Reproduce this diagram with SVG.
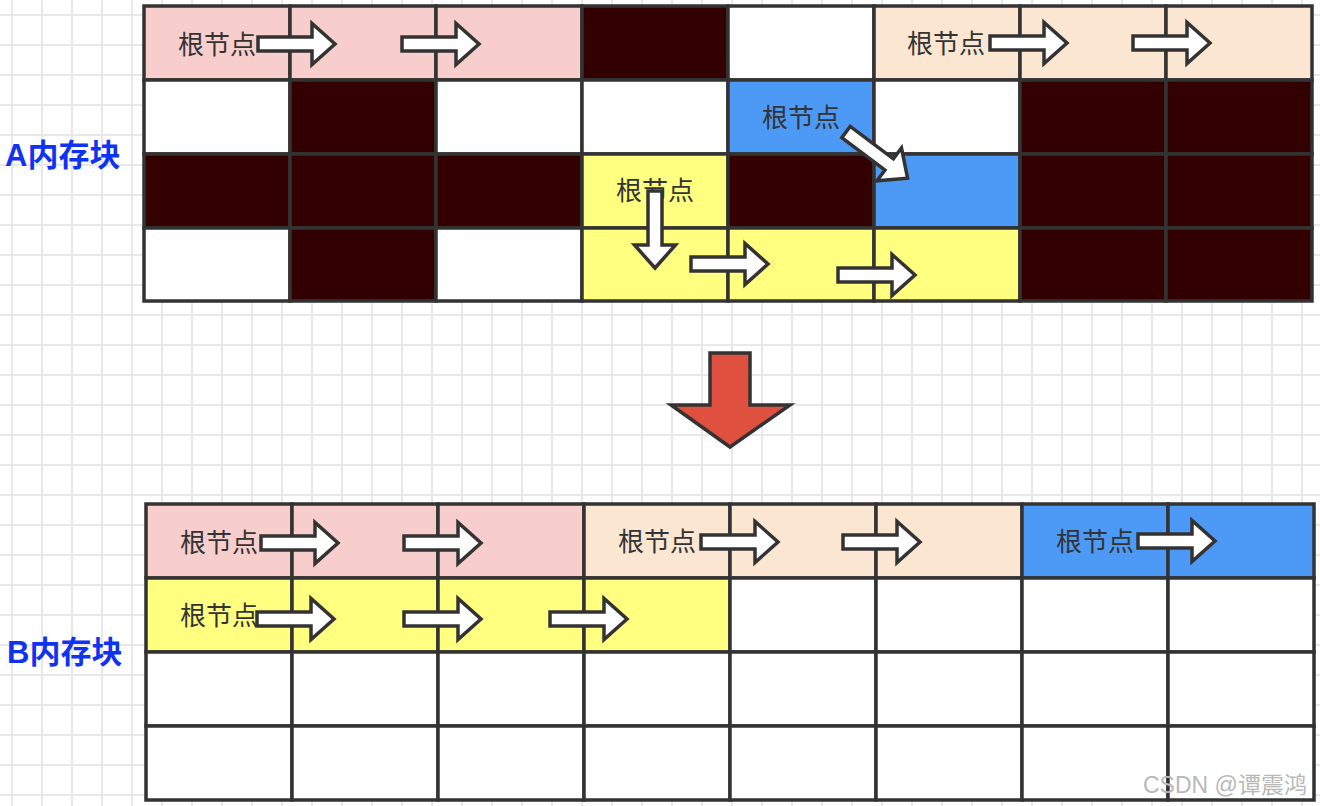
<svg xmlns="http://www.w3.org/2000/svg" width="1320" height="806" viewBox="0 0 1320 806">
  <defs>
    <pattern id="paper" patternUnits="userSpaceOnUse" x="-3" y="0" width="30" height="30">
      <path d="M0,15 H30 M15,0 V30" stroke="#e8e8e8" stroke-width="2" fill="none"/>
    </pattern>
    <!-- block arrow, tail centre at origin, pointing along +x -->
    <path id="blockArrow" d="M0,-7 H54 V-20.5 L77,0 L54,20.5 V7 H0 Z"/>
    <style>
      .cell { stroke: #333; stroke-width: 3.5; }
      .pink { fill: #f8cecc; }
      .peach { fill: #fbe6d1; }
      .dark { fill: #330000; }
      .blue { fill: #4d9af6; }
      .yellow { fill: #ffff80; }
      .white { fill: #ffffff; }
      .lbl { font-family: "Noto Sans CJK SC", "Noto Sans", sans-serif; font-size: 26px; fill: #333; text-anchor: middle; }
      .title { font-family: "Liberation Sans", "Noto Sans CJK SC", sans-serif; font-size: 31px; font-weight: bold; fill: #1032f2; }
      .arrow { fill: #ffffff; stroke: #333; stroke-width: 3.5; stroke-linejoin: miter; }
      .mark { font-family: "Liberation Sans", "Noto Sans CJK SC", sans-serif; font-size: 23px; fill: #b8b8b8; }
    </style>
  </defs>

  <rect width="1320" height="806" fill="#ffffff"/>
  <rect width="1320" height="806" fill="url(#paper)"/>

  <!-- memory block A: 8 x 4 cells -->
  <g id="blockA">
    <rect class="cell pink" x="144" y="6" width="146" height="74"/>
    <rect class="cell pink" x="290" y="6" width="146" height="74"/>
    <rect class="cell pink" x="436" y="6" width="146" height="74"/>
    <rect class="cell dark" x="582" y="6" width="146" height="74"/>
    <rect class="cell white" x="728" y="6" width="146" height="74"/>
    <rect class="cell peach" x="874" y="6" width="146" height="74"/>
    <rect class="cell peach" x="1020" y="6" width="146" height="74"/>
    <rect class="cell peach" x="1166" y="6" width="146" height="74"/>

    <rect class="cell white" x="144" y="80" width="146" height="74"/>
    <rect class="cell dark" x="290" y="80" width="146" height="74"/>
    <rect class="cell white" x="436" y="80" width="146" height="74"/>
    <rect class="cell white" x="582" y="80" width="146" height="74"/>
    <rect class="cell blue" x="728" y="80" width="146" height="74"/>
    <rect class="cell white" x="874" y="80" width="146" height="74"/>
    <rect class="cell dark" x="1020" y="80" width="146" height="74"/>
    <rect class="cell dark" x="1166" y="80" width="146" height="74"/>

    <rect class="cell dark" x="144" y="154" width="146" height="74"/>
    <rect class="cell dark" x="290" y="154" width="146" height="74"/>
    <rect class="cell dark" x="436" y="154" width="146" height="74"/>
    <rect class="cell yellow" x="582" y="154" width="146" height="74"/>
    <rect class="cell dark" x="728" y="154" width="146" height="74"/>
    <rect class="cell blue" x="874" y="154" width="146" height="74"/>
    <rect class="cell dark" x="1020" y="154" width="146" height="74"/>
    <rect class="cell dark" x="1166" y="154" width="146" height="74"/>

    <rect class="cell white" x="144" y="228" width="146" height="73"/>
    <rect class="cell dark" x="290" y="228" width="146" height="73"/>
    <rect class="cell white" x="436" y="228" width="146" height="73"/>
    <rect class="cell yellow" x="582" y="228" width="146" height="73"/>
    <rect class="cell yellow" x="728" y="228" width="146" height="73"/>
    <rect class="cell yellow" x="874" y="228" width="146" height="73"/>
    <rect class="cell dark" x="1020" y="228" width="146" height="73"/>
    <rect class="cell dark" x="1166" y="228" width="146" height="73"/>

    <text class="lbl" x="217" y="54">根节点</text>
    <text class="lbl" x="946" y="53">根节点</text>
    <text class="lbl" x="801" y="127">根节点</text>
    <text class="lbl" x="655" y="200">根节点</text>
  </g>

  <!-- memory block B: 8 x 4 cells -->
  <g id="blockB">
    <rect class="cell pink" x="146" y="504" width="146" height="74"/>
    <rect class="cell pink" x="292" y="504" width="146" height="74"/>
    <rect class="cell pink" x="438" y="504" width="146" height="74"/>
    <rect class="cell peach" x="584" y="504" width="146" height="74"/>
    <rect class="cell peach" x="730" y="504" width="146" height="74"/>
    <rect class="cell peach" x="876" y="504" width="146" height="74"/>
    <rect class="cell blue" x="1022" y="504" width="146" height="74"/>
    <rect class="cell blue" x="1168" y="504" width="146" height="74"/>

    <rect class="cell yellow" x="146" y="578" width="146" height="74"/>
    <rect class="cell yellow" x="292" y="578" width="146" height="74"/>
    <rect class="cell yellow" x="438" y="578" width="146" height="74"/>
    <rect class="cell yellow" x="584" y="578" width="146" height="74"/>
    <rect class="cell white" x="730" y="578" width="146" height="74"/>
    <rect class="cell white" x="876" y="578" width="146" height="74"/>
    <rect class="cell white" x="1022" y="578" width="146" height="74"/>
    <rect class="cell white" x="1168" y="578" width="146" height="74"/>

    <rect class="cell white" x="146" y="652" width="146" height="74"/>
    <rect class="cell white" x="292" y="652" width="146" height="74"/>
    <rect class="cell white" x="438" y="652" width="146" height="74"/>
    <rect class="cell white" x="584" y="652" width="146" height="74"/>
    <rect class="cell white" x="730" y="652" width="146" height="74"/>
    <rect class="cell white" x="876" y="652" width="146" height="74"/>
    <rect class="cell white" x="1022" y="652" width="146" height="74"/>
    <rect class="cell white" x="1168" y="652" width="146" height="74"/>

    <rect class="cell white" x="146" y="726" width="146" height="74"/>
    <rect class="cell white" x="292" y="726" width="146" height="74"/>
    <rect class="cell white" x="438" y="726" width="146" height="74"/>
    <rect class="cell white" x="584" y="726" width="146" height="74"/>
    <rect class="cell white" x="730" y="726" width="146" height="74"/>
    <rect class="cell white" x="876" y="726" width="146" height="74"/>
    <rect class="cell white" x="1022" y="726" width="146" height="74"/>
    <rect class="cell white" x="1168" y="726" width="146" height="74"/>

    <text class="lbl" x="219" y="552">根节点</text>
    <text class="lbl" x="657" y="551">根节点</text>
    <text class="lbl" x="1095" y="551">根节点</text>
    <text class="lbl" x="219" y="625">根节点</text>
  </g>

  <g id="labelA"><text class="title" x="5" y="166">A内存块</text></g>
  <g id="labelB"><text class="title" x="7" y="663">B内存块</text></g>

  <!-- links between cells -->
  <g id="connectors">
    <use href="#blockArrow" class="arrow" transform="translate(258,44)"/>
    <use href="#blockArrow" class="arrow" transform="translate(402,44)"/>
    <use href="#blockArrow" class="arrow" transform="translate(990,43)"/>
    <use href="#blockArrow" class="arrow" transform="translate(1133,43)"/>
    <use href="#blockArrow" class="arrow" transform="translate(846,132) rotate(36.9)"/>
    <use href="#blockArrow" class="arrow" transform="translate(655,191) rotate(90)"/>
    <use href="#blockArrow" class="arrow" transform="translate(691,264)"/>
    <use href="#blockArrow" class="arrow" transform="translate(838,275)"/>

    <use href="#blockArrow" class="arrow" transform="translate(261,543)"/>
    <use href="#blockArrow" class="arrow" transform="translate(404,543)"/>
    <use href="#blockArrow" class="arrow" transform="translate(701,542)"/>
    <use href="#blockArrow" class="arrow" transform="translate(843,542)"/>
    <use href="#blockArrow" class="arrow" transform="translate(1138,541)"/>
    <use href="#blockArrow" class="arrow" transform="translate(257,619)"/>
    <use href="#blockArrow" class="arrow" transform="translate(404,619)"/>
    <use href="#blockArrow" class="arrow" transform="translate(550,619)"/>
  </g>

  <!-- transfer arrow from A to B -->
  <g id="transfer">
    <path d="M710,353 H750 V405 H790 L730,447 L671,405 H710 Z" fill="#e0503e" stroke="#333" stroke-width="3.5" stroke-linejoin="miter"/>
  </g>

  <text class="mark" x="1143" y="793">CSDN @谭震鸿</text>
</svg>
